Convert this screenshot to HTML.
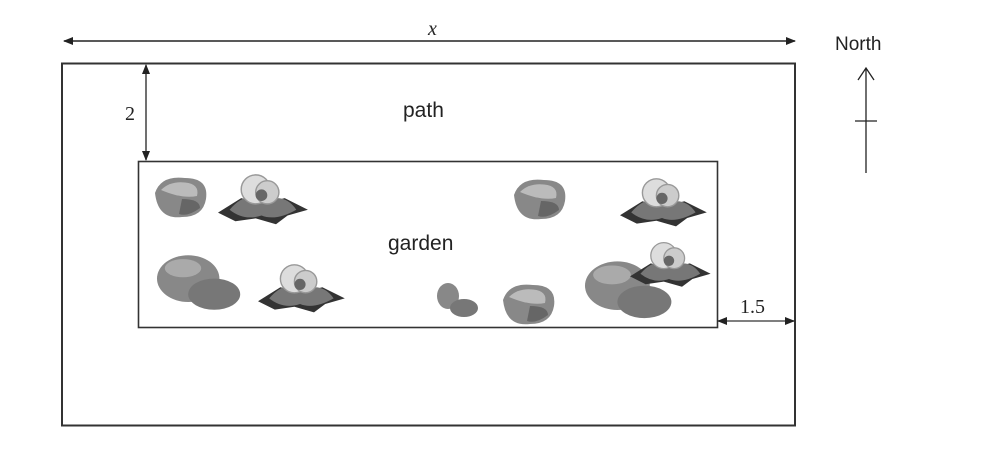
<!DOCTYPE html>
<html><head><style>body{margin:0;background:#fff}svg{display:block}</style></head><body>
<svg width="1008" height="451" xmlns="http://www.w3.org/2000/svg">
<defs>
<marker id="a" markerWidth="10" markerHeight="8" refX="9" refY="4" orient="auto-start-reverse" markerUnits="userSpaceOnUse"><path d="M0,0L10,4L0,8z" fill="#222"/></marker>
<g id="rock"><path d="M0,10 Q4,-2 20,0 Q36,0 34,14 Q32,26 18,26 Q2,28 0,10z" fill="#888"/><path d="M4,8 Q10,2 20,3 Q30,4 28,12 Q18,14 4,8z" fill="#bbb"/><path d="M18,14 Q30,14 30,20 Q22,26 16,24z" fill="#666"/></g>
<g id="flower"><path d="M0,28 L16,18 L30,22 L46,18 L62,26 L48,30 L40,36 L26,32 L12,34z" fill="#333"/><path d="M8,26 Q20,12 32,20 Q46,14 54,26 Q40,34 30,30 Q18,34 8,26z" fill="#777"/><circle cx="26" cy="12" r="10" fill="#ddd" stroke="#999"/><circle cx="34" cy="14" r="8" fill="#ccc" stroke="#999"/><circle cx="30" cy="16" r="4" fill="#666"/></g>
<g id="boulder"><ellipse cx="24" cy="22" rx="24" ry="18" fill="#888"/><ellipse cx="44" cy="34" rx="20" ry="12" fill="#777"/><ellipse cx="20" cy="14" rx="14" ry="7" fill="#aaa"/></g>
</defs>
<line x1="64" y1="41" x2="795" y2="41" stroke="#222" stroke-width="1.5" marker-start="url(#a)" marker-end="url(#a)"/>
<text x="428" y="35" font-family="Liberation Serif, serif" font-style="italic" font-size="20" fill="#222">x</text>
<rect x="62" y="63.5" width="733" height="362" fill="none" stroke="#333" stroke-width="2"/>
<rect x="138.5" y="161.5" width="579" height="166" fill="none" stroke="#333" stroke-width="1.6"/>
<line x1="146" y1="65" x2="146" y2="160" stroke="#222" stroke-width="1.3" marker-start="url(#a)" marker-end="url(#a)"/>
<text x="125" y="120" font-family="Liberation Serif, serif" font-size="20" fill="#222">2</text>
<line x1="718" y1="321" x2="794" y2="321" stroke="#555" stroke-width="1.5" marker-start="url(#a)" marker-end="url(#a)"/>
<text x="740" y="313" font-family="Liberation Serif, serif" font-size="20" fill="#222">1.5</text>
<text x="403" y="117" font-family="Liberation Sans, sans-serif" font-size="21" fill="#222">path</text>
<text x="388" y="250" font-family="Liberation Sans, sans-serif" font-size="21" fill="#222">garden</text>
<text x="835" y="50" font-family="Liberation Sans, sans-serif" font-size="19" fill="#222">North</text>
<path d="M858,80 L866,68 L874,80 M866,68 L866,173 M855,121 L877,121" fill="none" stroke="#222" stroke-width="1.3"/>
<use href="#rock" transform="translate(155,178) scale(1.5)"/>
<use href="#flower" transform="translate(218,172) scale(1.45)"/>
<use href="#rock" transform="translate(514,180) scale(1.5)"/>
<use href="#flower" transform="translate(620,176) scale(1.4)"/>
<use href="#boulder" transform="translate(157,250) scale(1.3)"/>
<use href="#flower" transform="translate(258,262) scale(1.4)"/>
<g transform="translate(436,280)"><ellipse cx="12" cy="16" rx="11" ry="13" fill="#888"/><ellipse cx="28" cy="28" rx="14" ry="9" fill="#777"/></g>
<use href="#rock" transform="translate(503,285) scale(1.5)"/>
<use href="#boulder" transform="translate(585,256) scale(1.35)"/>
<use href="#flower" transform="translate(630,240) scale(1.3)"/>
</svg>
</body></html>
